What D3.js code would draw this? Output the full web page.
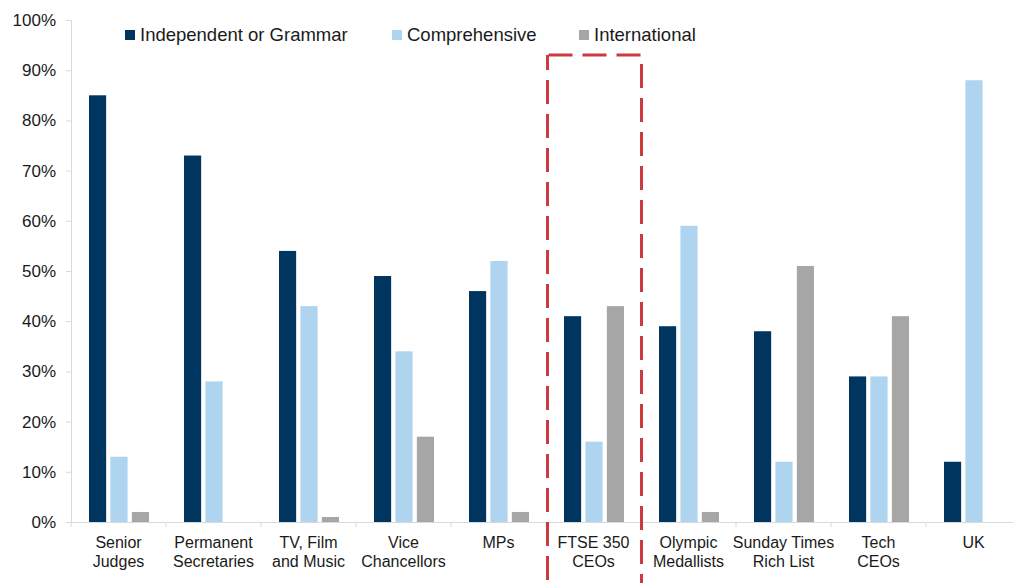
<!DOCTYPE html>
<html>
<head>
<meta charset="utf-8">
<script src="https://cdn.jsdelivr.net/npm/d3@7"></script>
<style>
  body { margin: 0; background: #fff; }
  svg { display: block; font-family: "Liberation Sans", Arial, sans-serif; }
  .axis path, .axis line { stroke: #d9d9d9; }
  .axis text { fill: #1a1a1a; }
</style>
</head>
<body>
<div id="chart-area"></div>
<script>
// data
const categories = [
  ["Senior", "Judges"],
  ["Permanent", "Secretaries"],
  ["TV, Film", "and Music"],
  ["Vice", "Chancellors"],
  ["MPs"],
  ["FTSE 350", "CEOs"],
  ["Olympic", "Medallists"],
  ["Sunday Times", "Rich List"],
  ["Tech", "CEOs"],
  ["UK"]
]
const seriesNames = ["Independent or Grammar", "Comprehensive", "International"]
const independent = [85, 73, 54, 49, 46, 41, 39, 38, 29, 12]
const comprehensive = [13, 28, 43, 34, 52, 16, 59, 12, 29, 88]
const international = [2, 0, 1, 17, 2, 43, 2, 51, 41, 0]
const yTicks = [0, 10, 20, 30, 40, 50, 60, 70, 80, 90, 100]
const highlighted = 5   // FTSE 350 CEOs

const colors = ["#00355f", "#aed4f0", "#a6a6a6"]

const W = 1013, H = 583
const MARGIN = { LEFT: 71, TOP: 20, BOTTOM: 61 }
const HEIGHT = H - MARGIN.TOP - MARGIN.BOTTOM

const svg = d3.select("#chart-area").append("svg")
  .attr("width", W)
  .attr("height", H)

const g = svg.append("g")
  .attr("transform", `translate(${MARGIN.LEFT}, ${MARGIN.TOP})`)

// scales
const x = d3.scaleBand()
  .domain(d3.range(categories.length))
  .range([0, 950])
const y = d3.scaleLinear().domain([0, 100]).range([HEIGHT, 0])
const xs = d3.scaleBand().domain([0, 1, 2]).range([18, 78]).paddingInner(0.2)

// axes
const yAxis = g.append("g").attr("class", "axis")
  .call(d3.axisLeft(y).tickValues(yTicks).tickSize(5).tickPadding(10).tickFormat(d => d + "%"))
yAxis.selectAll("text").style("font-size", "17px")

const xAxis = g.append("g").attr("class", "axis")
  .attr("transform", `translate(0, ${HEIGHT})`)
  .call(d3.axisBottom(x).tickValues([]).tickSizeOuter(0))
xAxis.selectAll(".sep")
  .data(d3.range(categories.length + 1))
  .join("line")
  .attr("class", "sep")
  .attr("x1", d => d * x.step())
  .attr("x2", d => d * x.step())
  .attr("y1", 0)
  .attr("y2", 5)

// x labels
const lbl = g.append("g").selectAll("text")
  .data(categories)
  .join("text")
  .attr("x", (d, i) => x(i) + x.bandwidth() / 2)
  .attr("y", HEIGHT + 26)
  .attr("text-anchor", "middle")
  .style("font-size", "16px")
  .attr("fill", "#1a1a1a")
lbl.selectAll("tspan")
  .data(d => d)
  .join("tspan")
  .attr("x", function () { return this.parentNode.getAttribute("x") })
  .attr("dy", (d, i) => i === 0 ? 0 : 19)
  .text(d => d)

// bars
const series = [independent, comprehensive, international]
const groups = g.selectAll(".group")
  .data(categories)
  .join("g")
  .attr("class", "group")
  .attr("transform", (d, i) => `translate(${x(i)}, 0)`)

groups.selectAll("rect")
  .data((d, i) => series.map((s, k) => ({ k, v: s[i] })))
  .join("rect")
  .attr("x", d => xs(d.k))
  .attr("width", xs.bandwidth())
  .attr("y", d => y(d.v))
  .attr("height", d => HEIGHT - y(d.v))
  .attr("fill", d => colors[d.k])

// highlight box
g.append("rect")
  .attr("x", x(highlighted) + 1.5)
  .attr("y", 35)
  .attr("width", x.bandwidth() - 1)
  .attr("height", 560)
  .attr("fill", "none")
  .attr("stroke", "#cc3a3f")
  .attr("stroke-width", 3)
  .attr("stroke-dasharray", "24,10")
  .attr("stroke-dashoffset", -35)

// legend
const legendX = [125, 392, 579]
const legend = svg.append("g").selectAll("g")
  .data(seriesNames)
  .join("g")
  .attr("transform", (d, i) => `translate(${legendX[i]}, 30)`)
legend.append("rect")
  .attr("width", 10).attr("height", 10)
  .attr("fill", (d, i) => colors[i])
legend.append("text")
  .attr("x", 15)
  .attr("y", 11)
  .style("font-size", "18.5px")
  .attr("fill", "#1a1a1a")
  .text(d => d)
</script>
</body>
</html>
